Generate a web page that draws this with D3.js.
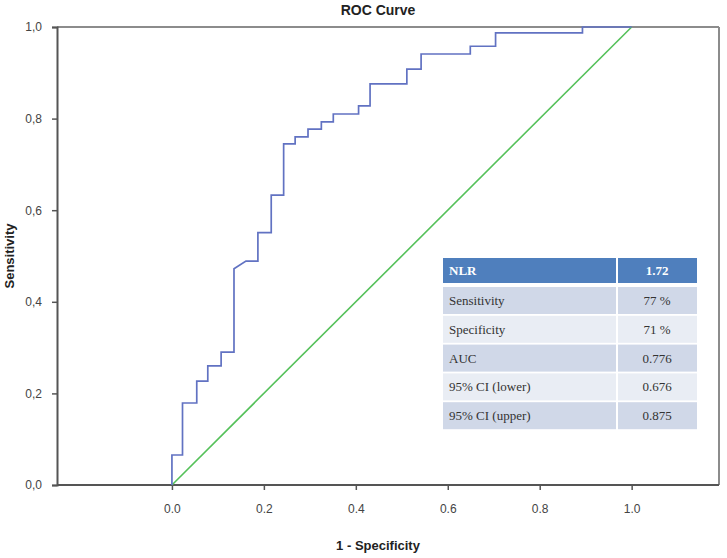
<!DOCTYPE html>
<html><head><meta charset="utf-8">
<script src="https://cdn.jsdelivr.net/npm/d3@7"></script>
<style>body{margin:0;background:#fff}svg{display:block}</style>
</head><body>
<svg id="c" width="727" height="558"></svg>
<script>
// ROC curve vertices (1 - specificity, sensitivity)
const rocFpr = [0,0,0.023,0.023,0.054,0.054,0.078,0.078,0.107,0.107,0.135,0.135,0.161,0.187,0.187,0.216,0.216,0.243,0.243,0.268,0.268,0.296,0.296,0.325,0.325,0.351,0.351,0.406,0.406,0.431,0.431,0.511,0.511,0.542,0.542,0.649,0.649,0.704,0.704,0.893,0.893,1.0];
const rocTpr = [0,0.0655,0.0655,0.179,0.179,0.227,0.227,0.260,0.260,0.290,0.290,0.472,0.489,0.489,0.551,0.551,0.633,0.633,0.745,0.745,0.760,0.760,0.777,0.777,0.793,0.793,0.810,0.810,0.828,0.828,0.876,0.876,0.908,0.908,0.941,0.941,0.958,0.958,0.987,0.987,1.0,1.0];
const refFpr = [0,1];
const refTpr = [0,1];
const xTicks = [0,0.2,0.4,0.6,0.8,1.0];
const xTickLabels = ["0.0","0.2","0.4","0.6","0.8","1.0"];
const yTicks = [0,0.2,0.4,0.6,0.8,1.0];
const yTickLabels = ["0,0","0,2","0,4","0,6","0,8","1,0"];
const tableHeader = ["NLR","1.72"];
const tableLabels = ["Sensitivity","Specificity","AUC","95% CI (lower)","95% CI (upper)"];
const tableValues = ["77 %","71 %","0.776","0.676","0.875"];

const svg = d3.select("#c");
const L=57,R=719,T=27,B=485;
const x = d3.scaleLinear().domain([-0.25,1.19]).range([L,R]);
const y = d3.scaleLinear().domain([0,1]).range([B,T]);

// frame top/right
svg.append("line").attr("x1",L).attr("x2",R).attr("y1",T).attr("y2",T).attr("stroke","#8c8c8c").attr("stroke-width",2);
svg.append("line").attr("x1",R).attr("x2",R).attr("y1",T).attr("y2",B).attr("stroke","#8c8c8c").attr("stroke-width",2);

// axes
const xAxis = svg.append("g").attr("transform",`translate(0,${B})`)
  .call(d3.axisBottom(x).tickValues(xTicks).tickFormat((d,i)=>xTickLabels[i]).tickSize(5).tickPadding(14));
const yAxis = svg.append("g").attr("transform",`translate(${L},0)`)
  .call(d3.axisLeft(y).tickValues(yTicks).tickFormat((d,i)=>yTickLabels[i]).tickSize(5).tickPadding(10));
[xAxis,yAxis].forEach(g=>{
  g.select(".domain").attr("stroke","#555").attr("stroke-width",2);
  g.selectAll(".tick line").attr("stroke","#555").attr("stroke-width",1.5);
  g.selectAll("text").attr("fill","#444").style("font-family","Liberation Sans, Arial, sans-serif").style("font-size","12px");
});
xAxis.select(".domain").attr("d",`M${L},0H${R}`);

// reference line
const line = d3.line().x(d=>x(d[0])).y(d=>y(d[1]));
svg.append("path").datum(refFpr.map((v,i)=>[v,refTpr[i]])).attr("d",line)
  .attr("fill","none").attr("stroke","#55c15a").attr("stroke-width",1.6);
// ROC curve
svg.append("path").datum(rocFpr.map((v,i)=>[v,rocTpr[i]])).attr("d",line)
  .attr("fill","none").attr("stroke","#6172c2").attr("stroke-width",1.7);

// titles
svg.append("text").attr("x",378).attr("y",15).attr("text-anchor","middle")
  .style("font-family","Liberation Sans, Arial, sans-serif").style("font-size","14px").style("font-weight","bold").attr("fill","#222").text("ROC Curve");
svg.append("text").attr("x",378).attr("y",550).attr("text-anchor","middle")
  .style("font-family","Liberation Sans, Arial, sans-serif").style("font-size","13px").style("font-weight","bold").attr("fill","#222").text("1 - Specificity");
svg.append("text").attr("transform","translate(14,256) rotate(-90)").attr("text-anchor","middle")
  .style("font-family","Liberation Sans, Arial, sans-serif").style("font-size","13px").style("font-weight","bold").attr("fill","#222").text("Sensitivity");

// table
const tx0=443, tx1=617, tx2=697, hy=258, hh=25, rowY0=287, rh=28.8, gap=1.8;
const tf = "Liberation Serif, Times New Roman, serif";
svg.append("rect").attr("x",tx0).attr("y",hy).attr("width",tx1-tx0-1).attr("height",hh).attr("fill","#4f7fbd");
svg.append("rect").attr("x",tx1+1).attr("y",hy).attr("width",tx2-tx1-1).attr("height",hh).attr("fill","#4f7fbd");
svg.append("text").attr("x",tx0+6).attr("y",hy+hh/2+4.5).attr("fill","#fff").style("font-family",tf).style("font-size","13px").style("font-weight","bold").text(tableHeader[0]);
svg.append("text").attr("x",(tx1+tx2)/2).attr("y",hy+hh/2+4.5).attr("text-anchor","middle").attr("fill","#fff").style("font-family",tf).style("font-size","13px").style("font-weight","bold").text(tableHeader[1]);
tableLabels.forEach((lab,i)=>{
  const yy = rowY0 + i*rh;
  const fill = i%2===0 ? "#d0d8e8" : "#e9edf4";
  svg.append("rect").attr("x",tx0).attr("y",yy).attr("width",tx1-tx0-1).attr("height",rh-gap).attr("fill",fill);
  svg.append("rect").attr("x",tx1+1).attr("y",yy).attr("width",tx2-tx1-1).attr("height",rh-gap).attr("fill",fill);
  svg.append("text").attr("x",tx0+6).attr("y",yy+(rh-gap)/2+4.5).attr("fill","#333").style("font-family",tf).style("font-size","13px").text(lab);
  svg.append("text").attr("x",(tx1+tx2)/2).attr("y",yy+(rh-gap)/2+4.5).attr("text-anchor","middle").attr("fill","#333").style("font-family",tf).style("font-size","13px").text(tableValues[i]);
});
</script>
</body></html>
